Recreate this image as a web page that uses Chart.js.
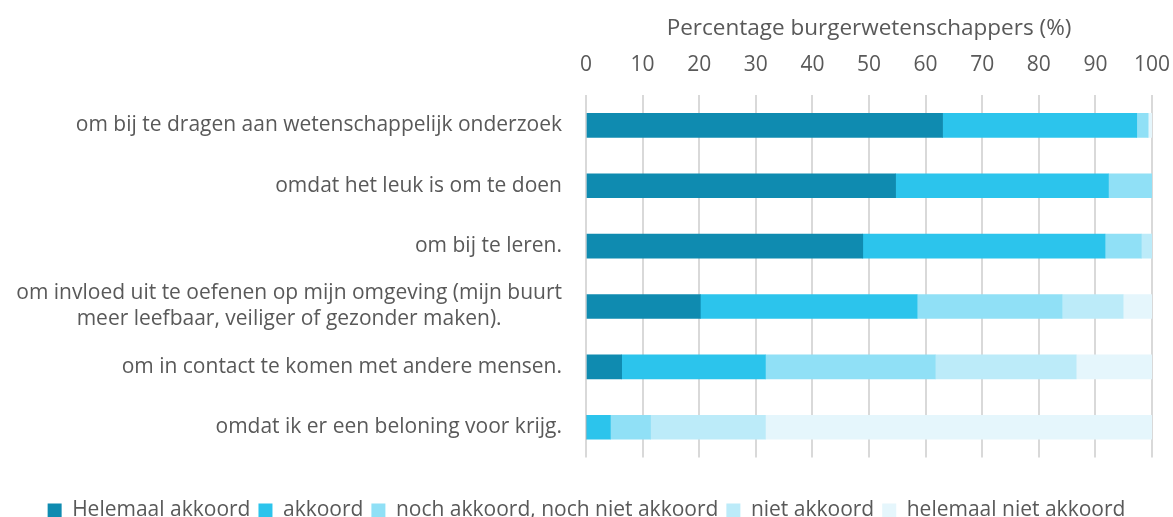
<!DOCTYPE html>
<html>
<head>
<meta charset="utf-8">
<script src="https://cdn.jsdelivr.net/npm/chart.js@4/dist/chart.umd.min.js"></script>
<style>
  html, body { margin: 0; padding: 0; background: #ffffff; }
  #wrap { width: 1173px; height: 517px; position: relative; }
</style>
</head>
<body>
<div id="wrap"><canvas id="c" width="1173" height="517"></canvas></div>
<script>
const categories = [
  ["om bij te dragen aan wetenschappelijk onderzoek"],
  ["omdat het leuk is om te doen"],
  ["om bij te leren."],
  ["om invloed uit te oefenen op mijn omgeving (mijn buurt", "meer leefbaar, veiliger of gezonder maken)."],
  ["om in contact te komen met andere mensen."],
  ["omdat ik er een beloning voor krijg."]
];
const seriesNames = ["Helemaal akkoord", "akkoord", "noch akkoord, noch niet akkoord", "niet akkoord", "helemaal niet akkoord"];
const helemaalAkkoord   = [63.0, 54.7, 48.9, 20.2, 6.3, 0];
const akkoord           = [34.3, 37.6, 42.8, 38.3, 25.4, 4.3];
const nochNoch          = [2.0, 7.7, 6.4, 25.6, 30.0, 7.1];
const nietAkkoord       = [0, 0, 1.9, 10.8, 24.9, 20.3];
const helemaalNiet      = [0.7, 0, 0, 5.1, 13.4, 68.3];
const xTicks = [0, 10, 20, 30, 40, 50, 60, 70, 80, 90, 100];
const axisTitle = "Percentage burgerwetenschappers (%)";

const colors = ["#0f8bb0", "#2cc4ec", "#90e0f6", "#bcebf9", "#e5f6fc"];
const FONT = "'Open Sans', sans-serif";
const TEXT = "#595959";

const yLabelsPlugin = {
  id: 'yLabels',
  afterDraw(chart) {
    const ctx = chart.ctx;
    const ys = chart.scales.y;
    const rightX = chart.chartArea.left - 24;
    ctx.save();
    ctx.font = "21px " + FONT;
    ctx.fillStyle = TEXT;
    ctx.textAlign = "center";
    ctx.textBaseline = "middle";
    const lh = 26;
    categories.forEach((lines, i) => {
      const yc = ys.getPixelForValue(i);
      const w = Math.max(...lines.map(l => ctx.measureText(l).width));
      const cx = rightX - w / 2;
      const y0 = yc - (lines.length - 1) * lh / 2;
      lines.forEach((l, j) => ctx.fillText(l, cx, y0 + j * lh));
    });
    ctx.restore();
  }
};

const data = {
  labels: categories.map(c => c.join(" ")),
  datasets: [helemaalAkkoord, akkoord, nochNoch, nietAkkoord, helemaalNiet].map((d, i) => ({
    label: seriesNames[i],
    data: d,
    backgroundColor: colors[i],
    borderWidth: 0,
    barThickness: 24
  }))
};

new Chart(document.getElementById('c'), {
  type: 'bar',
  data,
  plugins: [yLabelsPlugin],
  options: {
    indexAxis: 'y',
    responsive: false,
    animation: false,
    layout: { padding: { left: 0, right: 0, top: 15, bottom: -14 } },
    plugins: {
      legend: {
        position: 'bottom',
        title: { display: true, text: '', padding: { top: 13, bottom: 0 }, font: { size: 18 } },
        labels: {
          boxWidth: 14,
          boxHeight: 14,
          padding: 8,
          color: TEXT,
          font: { family: FONT, size: 21 }
        }
      },
      tooltip: { enabled: false }
    },
    scales: {
      x: {
        position: 'top',
        stacked: true,
        min: 0,
        max: 100,
        afterBuildTicks(scale) { scale.ticks = xTicks.map(v => ({ value: v })); },
        afterFit(scale) { scale.paddingRight = 21; scale.paddingLeft = 6; },
        ticks: { color: TEXT, font: { family: FONT, size: 21 }, padding: 18 },
        grid: { color: "#d9d9d9", lineWidth: 2, drawTicks: false },
        border: { display: false },
        title: { display: true, text: axisTitle, color: TEXT, font: { family: FONT, size: 22.5 }, padding: { top: 0, bottom: -8 } }
      },
      y: {
        stacked: true,
        display: true,
        ticks: { display: false },
        grid: { display: false },
        border: { display: false },
        afterFit(scale) { scale.width = 586; }
      }
    }
  }
});
</script>
</body>
</html>
